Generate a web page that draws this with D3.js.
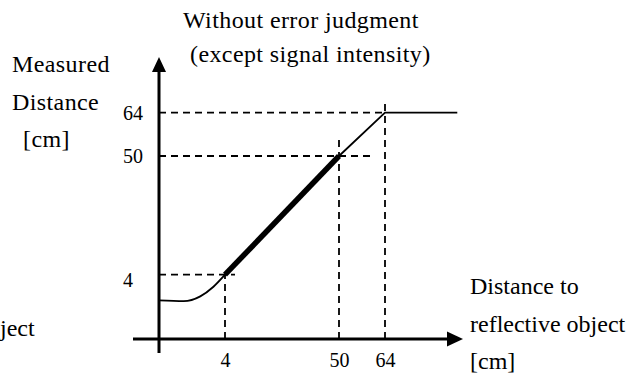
<!DOCTYPE html>
<html>
<head>
<meta charset="utf-8">
<script src="https://cdn.jsdelivr.net/npm/d3@7"></script>
<style>
  html, body { margin: 0; padding: 0; background: #fff; }
  svg { display: block; }
  svg text { font-family: 'Liberation Serif', 'DejaVu Serif', serif !important; fill: #000; }
</style>
</head>
<body>
<svg id="chart" width="636" height="378"></svg>
<script>
// Reference distances [cm] marked on both axes
const markValues = [4, 50, 64];
const xTickLabels = ["4", "50", "64"];
const yTickLabels = ["4", "50", "64"];

// Output below 4 cm: soft knee rising into the linear range
const nearRange = [[0, 2.4], [1.5, 2.35], [2.5, 2.65], [3.3, 3.25], [4, 4]];
// Linear response up to 64 cm, then held at 64
const fullRange = [[4, 4], [50, 50], [64, 64], [86, 64]];
// Guaranteed range, drawn heavy
const validRange = [[4, 4], [50, 50]];

const titleLines = ["Without error judgment", "(except signal intensity)"];
const yTitleLines = ["Measured", "Distance", "[cm]"];
const xTitleLines = ["Distance to", "reflective object", "[cm]"];

const FONT = "'Liberation Serif', 'DejaVu Serif', serif";
const svg = d3.select("#chart");

// Schematic (not to scale) axes: piecewise-linear mapping through the marks
const x = d3.scaleLinear().domain([0, 4, 50, 64]).range([159, 225, 339, 385]);
const y = d3.scaleLinear().domain([0, 4, 50, 64]).range([339, 274.7, 156, 112.7]);

const x0 = x(0), y0 = y(0);

// Dashed guide lines from each axis to the curve
const hOver = {4: 10, 50: 36, 64: 0};
const vOver = {4: 0, 50: 20, 64: 10};
const guides = svg.append("g")
  .attr("stroke", "#000").attr("stroke-width", 1.8)
  .attr("stroke-dasharray", "7,5").attr("fill", "none");
markValues.forEach(v => {
  guides.append("line")
    .attr("x1", x0).attr("x2", x(v) + hOver[v])
    .attr("y1", y(v)).attr("y2", y(v));
  guides.append("line")
    .attr("x1", x(v)).attr("x2", x(v))
    .attr("y1", y0).attr("y2", y(v) - vOver[v]);
});

const line = d3.line().x(d => x(d[0])).y(d => y(d[1]));

svg.append("path").datum(nearRange)
  .attr("d", d3.line().x(d => x(d[0])).y(d => y(d[1])).curve(d3.curveMonotoneX))
  .attr("fill", "none").attr("stroke", "#000").attr("stroke-width", 1.8);

svg.append("path").datum(fullRange)
  .attr("d", line)
  .attr("fill", "none").attr("stroke", "#000").attr("stroke-width", 1.8);

svg.append("path").datum(validRange)
  .attr("d", line)
  .attr("fill", "none").attr("stroke", "#000").attr("stroke-width", 5.5)
  .attr("stroke-linecap", "butt");

// Axes with arrow heads
const axes = svg.append("g");
axes.append("line")
  .attr("x1", x0 - 26).attr("x2", 450).attr("y1", y0).attr("y2", y0)
  .attr("stroke", "#000").attr("stroke-width", 3);
axes.append("path")
  .attr("d", `M463,${y0} L447,${y0 - 7.5} L447,${y0 + 7.5} Z`)
  .attr("fill", "#000");
axes.append("line")
  .attr("x1", x0).attr("x2", x0).attr("y1", y0 + 14).attr("y2", 70)
  .attr("stroke", "#000").attr("stroke-width", 3);
axes.append("path")
  .attr("d", `M${x0},57 L${x0 - 7},72 L${x0 + 7},72 Z`)
  .attr("fill", "#000");

// Tick labels via D3 axes (no tick marks, no domain line)
const xAxis = d3.axisBottom(x).tickValues(markValues)
  .tickFormat((d, i) => xTickLabels[i]).tickSize(0).tickPadding(14);
const gx = svg.append("g").attr("transform", `translate(0,${y0})`).call(xAxis)
  .attr("font-family", FONT).attr("font-size", 20);
gx.select(".domain").remove();

const yAxis = d3.axisLeft(y).tickValues(markValues)
  .tickFormat((d, i) => yTickLabels[i]).tickSize(0).tickPadding(15);
const gy = svg.append("g").attr("transform", `translate(${x0},0)`).call(yAxis)
  .attr("font-family", FONT).attr("font-size", 20);
gy.select(".domain").remove();
gy.selectAll("text")
  .attr("text-anchor", "start").attr("x", 123 - x0)
  .attr("dy", d => d === 4 ? "0.6em" : "0.32em");

// Titles
const t = svg.append("g").attr("font-family", FONT).attr("font-size", 24).attr("letter-spacing", 0.4);
t.append("text").attr("x", 183).attr("y", 28).text(titleLines[0]);
t.append("text").attr("x", 190).attr("y", 62).text(titleLines[1]);

yTitleLines.forEach((s, i) => {
  t.append("text").attr("x", i === 2 ? 23 : 12).attr("y", 72 + i * 37.5).text(s);
});
xTitleLines.forEach((s, i) => {
  t.append("text").attr("x", 470).attr("y", 294 + i * 37.5).attr("letter-spacing", 0).text(s);
});
// Tail of a neighbouring label cut by the left edge
t.append("text").attr("x", 0).attr("y", 336).attr("letter-spacing", 0).text("ject");
</script>
</body>
</html>
